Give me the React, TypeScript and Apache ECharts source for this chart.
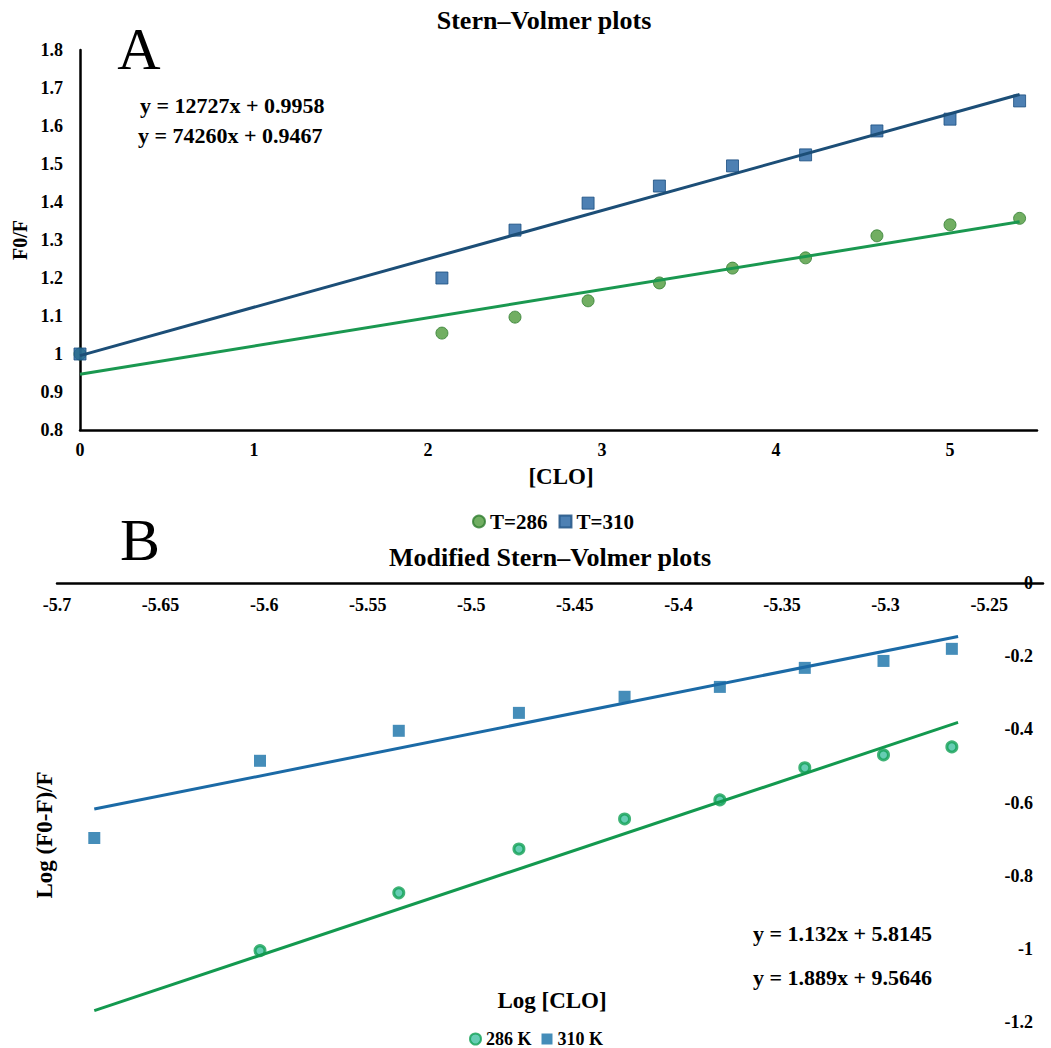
import React, { useEffect, useRef } from "react";
import * as echarts from "echarts";

// ---- Panel A data (Stern–Volmer) ----
const concX = [0, 2.08, 2.5, 2.92, 3.33, 3.75, 4.17, 4.58, 5.0, 5.4];
const f286 = [1.0, 1.055, 1.097, 1.14, 1.187, 1.226, 1.253, 1.311, 1.34, 1.357];
const f310 = [1.0, 1.2, 1.326, 1.397, 1.442, 1.495, 1.524, 1.587, 1.618, 1.666];
const trendA286 = [[0, 0.9467], [5.4, 1.348]];
const trendA310 = [[0, 0.9958], [5.4, 1.683]];
const eqA = ["y = 12727x + 0.9958", "y = 74260x + 0.9467"];

// ---- Panel B data (Modified Stern–Volmer) ----
const logX = [-5.682, -5.602, -5.535, -5.477, -5.426, -5.38, -5.339, -5.301, -5.268];
const logX286 = [-5.602, -5.535, -5.477, -5.426, -5.38, -5.339, -5.301, -5.268];
const log286 = [-1.005, -0.847, -0.727, -0.645, -0.593, -0.505, -0.47, -0.448];
const log310 = [-0.697, -0.486, -0.404, -0.355, -0.311, -0.284, -0.232, -0.213, -0.18];
const trendB286 = [[-5.682, -1.169], [-5.265, -0.381]];
const trendB310 = [[-5.682, -0.618], [-5.265, -0.146]];
const eqB = ["y = 1.132x + 5.8145", "y = 1.889x + 9.5646"];

const FF = '"Liberation Serif", "Times New Roman", serif';

export default function App() {
  const ref = useRef<HTMLDivElement>(null);
  useEffect(() => {
    document.body.style.margin = "0";
    const chart = echarts.init(ref.current!, null, { renderer: "svg" });
    const lbl = { color: "#000", fontWeight: "bold", fontSize: 18, fontFamily: FF };
    const txt = (text: string, x: number, y: number, font: string, align = "center", rot = 0) => ({
      type: "text",
      x,
      y,
      rotation: rot,
      style: { text, font, fill: "#000", textAlign: align, textVerticalAlign: "middle" },
    });
    const option: any = {
      animation: false,
      textStyle: { fontFamily: FF },
      grid: [
        { left: 80, top: 50, width: 957, height: 380 },
        { left: 57, top: 583, width: 986, height: 439 },
      ],
      xAxis: [
        {
          type: "value",
          gridIndex: 0,
          min: 0,
          max: 5.5,
          interval: 1,
          axisLine: { lineStyle: { color: "#000", width: 2.5 } },
          axisTick: { show: false },
          splitLine: { show: false },
          axisLabel: {
            ...lbl,
            margin: 11,
            formatter: (v: number) => (Number.isInteger(v) ? String(v) : ""),
          },
        },
        {
          type: "value",
          gridIndex: 1,
          position: "top",
          min: -5.7,
          max: -5.224,
          interval: 0.05,
          axisLine: { lineStyle: { color: "#000", width: 2.5 } },
          axisTick: { show: false },
          splitLine: { show: false },
          axisLabel: {
            ...lbl,
            inside: true,
            margin: 13,
            formatter: (v: number) => {
              const k = Math.round(v * 20);
              if (Math.abs(v * 20 - k) > 1e-6) return "";
              return String(+(k / 20).toFixed(2));
            },
          },
        },
      ],
      yAxis: [
        {
          type: "value",
          gridIndex: 0,
          min: 0.8,
          max: 1.8,
          interval: 0.1,
          axisLine: { show: true, lineStyle: { color: "#000", width: 2.5 } },
          axisTick: { show: false },
          splitLine: { show: false },
          axisLabel: { ...lbl, margin: 17 },
        },
        {
          type: "value",
          gridIndex: 1,
          position: "right",
          min: -1.2,
          max: 0,
          interval: 0.2,
          axisLine: { show: false },
          axisTick: { show: false },
          splitLine: { show: false },
          axisLabel: { ...lbl, inside: true, margin: 10 },
        },
      ],
      legend: [
        {
          data: ["T=286", "T=310"],
          left: 467,
          top: 506,
          itemWidth: 12,
          itemHeight: 12,
          itemGap: 11,
          textStyle: { color: "#000", fontWeight: "bold", fontSize: 21, fontFamily: FF },
        },
        {
          data: ["286 K", "310 K"],
          left: 469,
          top: 1030,
          padding: 0,
          itemWidth: 11,
          itemHeight: 11,
          itemGap: 10,
          textStyle: { color: "#000", fontWeight: "bold", fontSize: 18, lineHeight: 18, fontFamily: FF },
        },
      ],
      series: [
        {
          name: "T=286",
          type: "scatter",
          xAxisIndex: 0,
          yAxisIndex: 0,
          symbol: "circle",
          symbolSize: 12,
          itemStyle: { color: "#4e9a3b", borderColor: "#2f7d2f", borderWidth: 1 },
          data: concX.map((x, i) => [x, f286[i]]),
        },
        {
          name: "T=310",
          type: "scatter",
          xAxisIndex: 0,
          yAxisIndex: 0,
          symbol: "rect",
          symbolSize: 12,
          itemStyle: { color: "#2060a0", borderColor: "#1a4e80", borderWidth: 1 },
          data: concX.map((x, i) => [x, f310[i]]),
        },
        {
          type: "line",
          xAxisIndex: 0,
          yAxisIndex: 0,
          symbol: "none",
          lineStyle: { color: "#1a9850", width: 3 },
          data: trendA286,
        },
        {
          type: "line",
          xAxisIndex: 0,
          yAxisIndex: 0,
          symbol: "none",
          lineStyle: { color: "#1c4e77", width: 3 },
          data: trendA310,
        },
        {
          name: "286 K",
          type: "scatter",
          xAxisIndex: 1,
          yAxisIndex: 1,
          symbol: "circle",
          symbolSize: 10,
          itemStyle: { color: "#40c0a0", borderColor: "#12a055", borderWidth: 3 },
          data: logX286.map((x, i) => [x, log286[i]]),
        },
        {
          name: "310 K",
          type: "scatter",
          xAxisIndex: 1,
          yAxisIndex: 1,
          symbol: "rect",
          symbolSize: 12,
          itemStyle: { color: "#1670a8" },
          data: logX.map((x, i) => [x, log310[i]]),
        },
        {
          type: "line",
          xAxisIndex: 1,
          yAxisIndex: 1,
          symbol: "none",
          lineStyle: { color: "#13994f", width: 3 },
          data: trendB286,
        },
        {
          type: "line",
          xAxisIndex: 1,
          yAxisIndex: 1,
          symbol: "none",
          lineStyle: { color: "#1b6aa6", width: 3 },
          data: trendB310,
        },
      ],
      graphic: [
        txt("Stern–Volmer plots", 544, 20, `bold 26px ${FF}`),
        txt("A", 139, 49, `60px ${FF}`),
        txt(eqA[0], 140, 105, `bold 22px ${FF}`, "left"),
        txt(eqA[1], 138, 135, `bold 22px ${FF}`, "left"),
        txt("[CLO]", 561, 476, `bold 23px ${FF}`),
        txt("F0/F", 20, 240, `bold 20px ${FF}`, "center", Math.PI / 2),
        txt("B", 140, 540, `60px ${FF}`),
        txt("Modified Stern–Volmer plots", 550, 557, `bold 26px ${FF}`),
        txt("Log (F0-F)/F", 44, 835, `bold 23px ${FF}`, "center", Math.PI / 2),
        txt("Log [CLO]", 552, 1000, `bold 23px ${FF}`),
        txt(eqB[0], 753, 933, `bold 22px ${FF}`, "left"),
        txt(eqB[1], 753, 977, `bold 22px ${FF}`, "left"),
      ],
    };
    chart.setOption(option);
    return () => chart.dispose();
  }, []);
  return <div ref={ref} style={{ width: 1051, height: 1048 }} />;
}
